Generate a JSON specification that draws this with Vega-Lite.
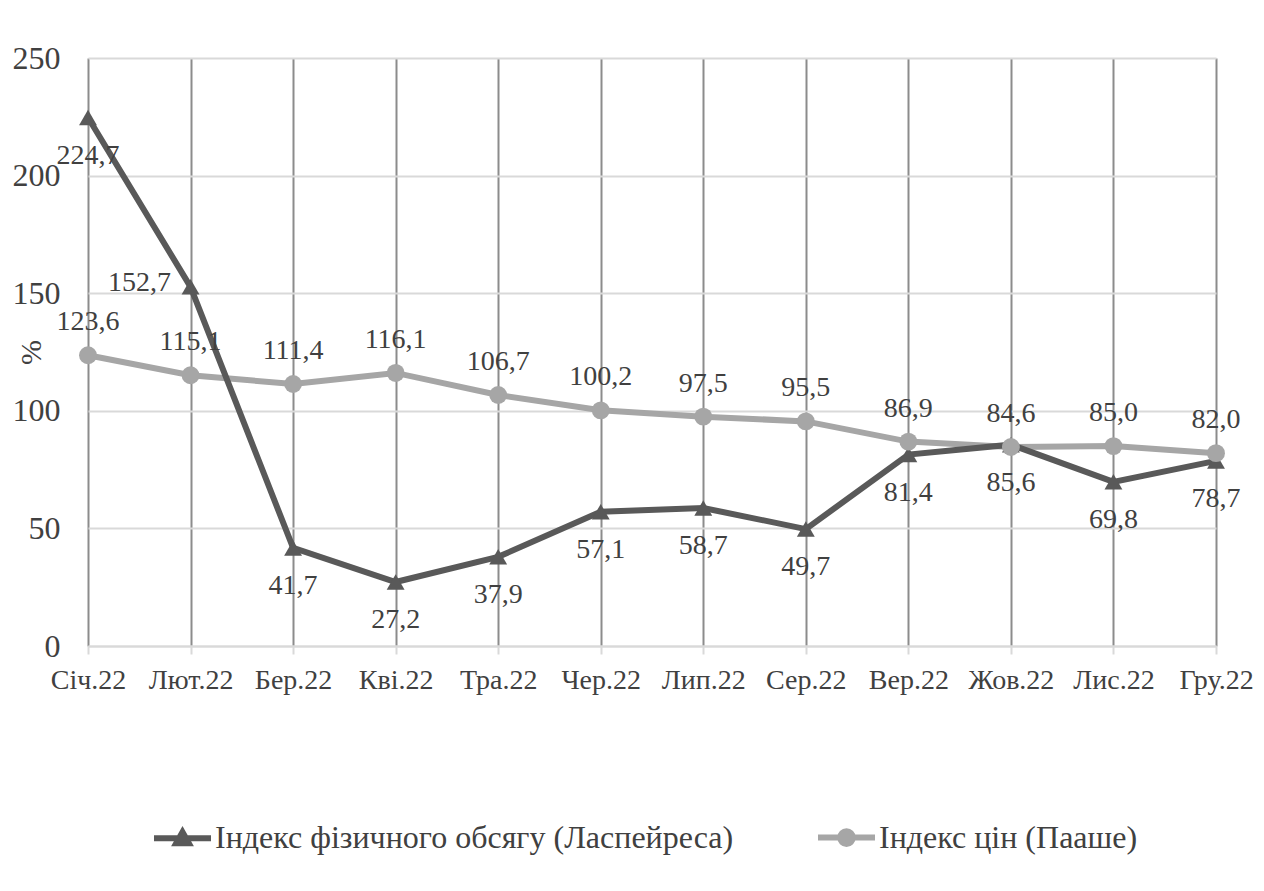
{
  "$schema": "https://vega.github.io/schema/vega-lite/v6.json",
  "width": 1128,
  "height": 588,
  "autosize": {"type": "none"},
  "padding": {"left": 88, "top": 58, "right": 48, "bottom": 245},
  "background": "white",
  "config": {
    "locale": {"number": {"decimal": ",", "thousands": " ", "grouping": [3], "currency": ["", " грн"]}},
    "font": "Liberation Serif",
    "view": {"stroke": null},
    "axis": {"labelFont": "Liberation Serif", "titleFont": "Liberation Serif", "labelColor": "#404040", "titleColor": "#404040"},
    "legend": {"labelFont": "Liberation Serif"}
  },
  "data": {
    "values": [
      {"month": "Січ.22", "series": "Індекс фізичного обсягу (Ласпейреса)", "value": 224.7},
      {"month": "Лют.22", "series": "Індекс фізичного обсягу (Ласпейреса)", "value": 152.7},
      {"month": "Бер.22", "series": "Індекс фізичного обсягу (Ласпейреса)", "value": 41.7},
      {"month": "Кві.22", "series": "Індекс фізичного обсягу (Ласпейреса)", "value": 27.2},
      {"month": "Тра.22", "series": "Індекс фізичного обсягу (Ласпейреса)", "value": 37.9},
      {"month": "Чер.22", "series": "Індекс фізичного обсягу (Ласпейреса)", "value": 57.1},
      {"month": "Лип.22", "series": "Індекс фізичного обсягу (Ласпейреса)", "value": 58.7},
      {"month": "Сер.22", "series": "Індекс фізичного обсягу (Ласпейреса)", "value": 49.7},
      {"month": "Вер.22", "series": "Індекс фізичного обсягу (Ласпейреса)", "value": 81.4},
      {"month": "Жов.22", "series": "Індекс фізичного обсягу (Ласпейреса)", "value": 85.6},
      {"month": "Лис.22", "series": "Індекс фізичного обсягу (Ласпейреса)", "value": 69.8},
      {"month": "Гру.22", "series": "Індекс фізичного обсягу (Ласпейреса)", "value": 78.7},
      {"month": "Січ.22", "series": "Індекс цін (Пааше)", "value": 123.6},
      {"month": "Лют.22", "series": "Індекс цін (Пааше)", "value": 115.1},
      {"month": "Бер.22", "series": "Індекс цін (Пааше)", "value": 111.4},
      {"month": "Кві.22", "series": "Індекс цін (Пааше)", "value": 116.1},
      {"month": "Тра.22", "series": "Індекс цін (Пааше)", "value": 106.7},
      {"month": "Чер.22", "series": "Індекс цін (Пааше)", "value": 100.2},
      {"month": "Лип.22", "series": "Індекс цін (Пааше)", "value": 97.5},
      {"month": "Сер.22", "series": "Індекс цін (Пааше)", "value": 95.5},
      {"month": "Вер.22", "series": "Індекс цін (Пааше)", "value": 86.9},
      {"month": "Жов.22", "series": "Індекс цін (Пааше)", "value": 84.6},
      {"month": "Лис.22", "series": "Індекс цін (Пааше)", "value": 85.0},
      {"month": "Гру.22", "series": "Індекс цін (Пааше)", "value": 82.0}
    ]
  },
  "encoding": {
    "x": {
      "field": "month", "type": "ordinal", "sort": null,
      "scale": {"type": "point", "padding": 0},
      "axis": {
        "title": null, "labelAngle": 0, "labelFontSize": 28, "labelPadding": 12,
        "domainColor": "#d9d9d9", "domainWidth": 2, "tickColor": "#d9d9d9", "tickWidth": 2, "tickSize": 8,
        "grid": true, "gridColor": "#8c8c8c", "gridWidth": 2, "labelOverlap": false, "labelFlush": false
      }
    },
    "y": {
      "field": "value", "type": "quantitative",
      "scale": {"domain": [0, 250], "nice": false},
      "axis": {
        "title": "%", "titleFontSize": 30, "titleFontWeight": "normal", "titlePadding": -34,
        "values": [0, 50, 100, 150, 200, 250], "labelFontSize": 32, "labelPadding": 28,
        "domain": false, "ticks": false, "grid": true, "gridColor": "#d9d9d9", "gridWidth": 2, "labelOverlap": false
      }
    }
  },
  "layer": [
    {
      "transform": [{"filter": "datum.series === 'Індекс цін (Пааше)'"}],
      "mark": {"type": "line", "strokeWidth": 6},
      "encoding": {
        "color": {
          "field": "series", "type": "nominal",
          "scale": {"domain": ["Індекс фізичного обсягу (Ласпейреса)", "Індекс цін (Пааше)"], "range": ["#595959", "#a6a6a6"]},
          "legend": {
            "title": null, "orient": "none", "legendX": 63, "legendY": 748, "direction": "horizontal",
            "labelFontSize": 32, "labelColor": "#404040", "symbolSize": 3249, "labelOffset": 1, "columnPadding": 72,
            "symbolStrokeWidth": 6, "labelLimit": 800,
            "encode": {
              "symbols": {
                "update": {
                  "shape": {"signal": "datum.value === 'Індекс цін (Пааше)' ? 'M-1,0L1,0M-0.22,0A0.22,0.22 0 1,0 0.22,0A0.22,0.22 0 1,0 -0.22,0Z' : 'M-1,0L1,0M-0.22,0.17L0,-0.22L0.22,0.17Z'"},
                  "fill": {"signal": "datum.value === 'Індекс цін (Пааше)' ? '#a6a6a6' : '#595959'"},
                  "stroke": {"signal": "datum.value === 'Індекс цін (Пааше)' ? '#a6a6a6' : '#595959'"},
                  "strokeWidth": {"value": 6},
                  "opacity": {"value": 1}
                }
              }
            }
          }
        }
      }
    },
    {
      "transform": [{"filter": "datum.series === 'Індекс фізичного обсягу (Ласпейреса)'"}],
      "mark": {"type": "line", "strokeWidth": 6},
      "encoding": {"color": {"field": "series", "type": "nominal"}}
    },
    {
      "transform": [{"filter": "datum.series === 'Індекс фізичного обсягу (Ласпейреса)'"}],
      "mark": {"type": "point", "shape": "triangle-up", "filled": true, "size": 320, "color": "#595959", "opacity": 1}
    },
    {
      "transform": [{"filter": "datum.series === 'Індекс цін (Пааше)'"}],
      "mark": {"type": "point", "shape": "circle", "filled": true, "size": 320, "color": "#a6a6a6", "opacity": 1}
    },
    {
      "transform": [{"filter": "datum.series === 'Індекс фізичного обсягу (Ласпейреса)' && datum.month !== 'Лют.22'"}],
      "mark": {"type": "text", "fontSize": 28, "color": "#404040", "baseline": "middle", "align": "center", "dy": 38},
      "encoding": {"text": {"field": "value", "type": "quantitative", "format": ".1f"}}
    },
    {
      "transform": [{"filter": "datum.series === 'Індекс фізичного обсягу (Ласпейреса)' && datum.month === 'Лют.22'"}],
      "mark": {"type": "text", "fontSize": 28, "color": "#404040", "baseline": "middle", "align": "center", "dx": -51, "dy": -4},
      "encoding": {"text": {"field": "value", "type": "quantitative", "format": ".1f"}}
    },
    {
      "transform": [{"filter": "datum.series === 'Індекс цін (Пааше)'"}],
      "mark": {"type": "text", "fontSize": 28, "color": "#404040", "baseline": "middle", "align": "center", "dy": -33},
      "encoding": {"text": {"field": "value", "type": "quantitative", "format": ".1f"}}
    }
  ]
}
